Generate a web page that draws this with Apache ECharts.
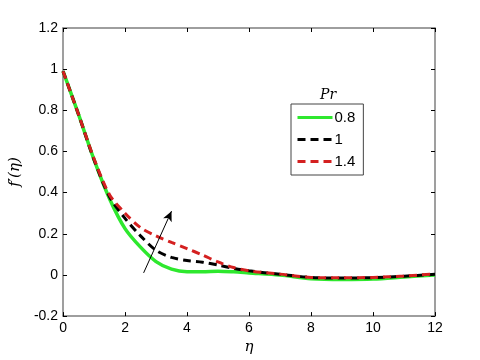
<!DOCTYPE html>
<html lang="en">
<head>
    <meta charset="UTF-8">
    <title>f'(eta) vs eta</title>
    <style>
        html, body { margin: 0; padding: 0; background: #fff; }
        #box { width: 480px; height: 360px; }
    </style>
    <script src="https://cdn.jsdelivr.net/npm/echarts@6/dist/echarts.min.js"></script>
</head>
<body>
    <div id="box"></div>
    <script>
        // eta grid shared by all curves
        const eta = [0, 0.5, 1, 1.5, 2, 2.5, 3, 3.5, 4, 4.5, 5, 5.5, 6, 7, 8, 9, 10, 11, 12]

        // f'(eta) for each Pr
        const pr08 = [0.99, 0.78, 0.56, 0.37, 0.225, 0.135, 0.065, 0.028, 0.016, 0.016, 0.018, 0.015, 0.01, 0.0, -0.018, -0.022, -0.02, -0.01, 0.0]
        const pr1 = [0.99, 0.78, 0.56, 0.38, 0.275, 0.19, 0.12, 0.085, 0.07, 0.062, 0.048, 0.032, 0.02, 0.003, -0.012, -0.015, -0.013, -0.006, 0.003]
        const pr14 = [0.99, 0.78, 0.565, 0.39, 0.3, 0.23, 0.19, 0.158, 0.128, 0.097, 0.063, 0.036, 0.02, 0.004, -0.012, -0.014, -0.012, -0.005, 0.005]

        const names = ['0.8', '1', '1.4']
        const arrowFrom = [2.6, 0.01]
        const arrowTo = [3.5, 0.31]

        const xTicks = { min: 0, max: 12, interval: 2 }
        const yTicks = { min: -0.2, max: 1.2, interval: 0.2 }

        function pairs(ys) {
            return eta.map((x, i) => [x, ys[i]])
        }

        const myChart = echarts.init(document.querySelector('#box'))

        const axisCol = '#7f7f7f'
        const labelStyle = { color: '#000', fontSize: 14, fontFamily: 'Liberation Sans, Arial, sans-serif' }

        const option = {
            animation: false,
            backgroundColor: '#fff',
            title: {
                text: 'Pr',
                left: 315,
                top: 83,
                textStyle: { fontFamily: 'DejaVu Serif, serif', fontStyle: 'italic', fontWeight: 'normal', fontSize: 14, color: '#000' }
            },
            legend: {
                orient: 'vertical',
                left: 291,
                top: 104,
                data: names,
                itemWidth: 35,
                itemHeight: 10,
                itemGap: 7,
                padding: [6, 8, 6, 5],
                borderColor: '#444',
                borderWidth: 1,
                itemStyle: { opacity: 0 },
                lineStyle: { width: 3 },
                textStyle: { color: '#000', fontSize: 15, fontFamily: 'Liberation Sans, Arial, sans-serif', padding: [0, 0, 0, -3] }
            },
            grid: { left: 63, right: 45, top: 28, bottom: 39 },
            xAxis: [{
                type: 'value',
                min: xTicks.min,
                max: xTicks.max,
                interval: xTicks.interval,
                name: 'η',
                nameLocation: 'middle',
                nameGap: 22,
                nameTextStyle: { fontFamily: 'DejaVu Serif, serif', fontStyle: 'italic', fontSize: 15, color: '#000' },
                axisLine: { onZero: false, lineStyle: { color: axisCol, width: 1.5 } },
                axisTick: { inside: true, length: 4, lineStyle: { color: '#000' } },
                axisLabel: Object.assign({ margin: 5 }, labelStyle),
                splitLine: { show: false }
            }, {
                type: 'value',
                position: 'top',
                min: xTicks.min,
                max: xTicks.max,
                interval: xTicks.interval,
                axisLine: { onZero: false, lineStyle: { color: axisCol, width: 1.5 } },
                axisTick: { inside: true, length: 4, lineStyle: { color: '#000' } },
                axisLabel: { show: false },
                splitLine: { show: false }
            }],
            yAxis: [{
                type: 'value',
                min: yTicks.min,
                max: yTicks.max,
                interval: yTicks.interval,
                name: "f′(η)",
                nameLocation: 'middle',
                nameGap: 33,
                nameRotate: 90,
                nameTextStyle: { fontFamily: 'DejaVu Serif, serif', fontStyle: 'italic', fontSize: 15, color: '#000' },
                axisLine: { onZero: false, lineStyle: { color: axisCol, width: 1.5 } },
                axisTick: { inside: true, length: 4, lineStyle: { color: '#000' } },
                axisLabel: Object.assign({ margin: 5 }, labelStyle),
                splitLine: { show: false }
            }, {
                type: 'value',
                position: 'right',
                min: yTicks.min,
                max: yTicks.max,
                interval: yTicks.interval,
                axisLine: { onZero: false, lineStyle: { color: axisCol, width: 1.5 } },
                axisTick: { inside: true, length: 4, lineStyle: { color: '#000' } },
                axisLabel: { show: false },
                splitLine: { show: false }
            }],
            series: [{
                name: names[0],
                type: 'line',
                data: pairs(pr08),
                smooth: 0.3,
                symbol: 'none',
                color: '#2ee82e',
                lineStyle: { color: '#2ee82e', width: 3.5 }
            }, {
                name: names[1],
                type: 'line',
                data: pairs(pr1),
                smooth: 0.3,
                symbol: 'none',
                color: '#000',
                lineStyle: { color: '#000', width: 3, type: [8, 5] }
            }, {
                name: names[2],
                type: 'line',
                data: pairs(pr14),
                smooth: 0.3,
                symbol: 'none',
                color: '#d42020',
                lineStyle: { color: '#d42020', width: 3, type: [8, 5] },
                markLine: {
                    silent: true,
                    symbol: ['none', 'arrow'],
                    symbolSize: [7, 10],
                    label: { show: false },
                    lineStyle: { color: '#000', width: 1, type: 'solid' },
                    data: [[{ coord: arrowFrom }, { coord: arrowTo }]]
                }
            }]
        }

        myChart.setOption(option)
    </script>
</body>
</html>
